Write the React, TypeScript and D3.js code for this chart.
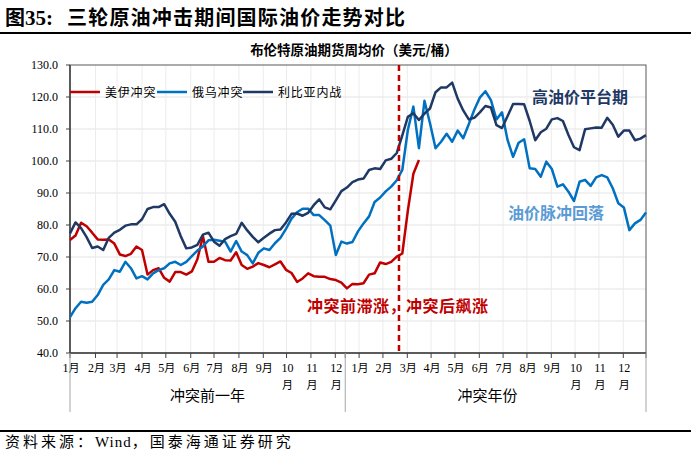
import React from "react";
import * as d3 from "d3";

// weekly Brent averages, aligned on week index from Jan of the year before the conflict
const usIranValues = [
  75.3, 76.7, 80.7, 79.6, 77.6, 75.5, 75.4, 75.5, 74.2, 70.8,
  70.3, 71.0, 73.3, 72.2, 64.5, 65.9, 66.5, 63.5, 62.3, 65.3,
  65.3, 64.5, 65.5, 69.3, 76.5, 68.5, 68.5, 69.7, 69.0, 68.9,
  71.5, 67.5, 66.3, 67.0, 68.1, 67.5, 66.8, 67.7, 68.6, 66.0,
  65.0, 62.2, 63.3, 64.9, 64.0, 63.8, 63.8, 63.1, 62.8, 62.0,
  60.2, 61.6, 61.5, 61.8, 64.5, 64.9, 68.3, 67.8, 68.5, 70.1,
  71.1, 84.5, 96.0, 100.3,
];

const russiaUkraineValues = [
  51.2, 54.0, 56.0, 55.7, 56.0, 58.1, 61.3, 63.0, 65.9, 65.4,
  68.5, 66.5, 63.3, 64.0, 63.0, 64.9, 65.9, 66.5, 68.0, 68.5,
  67.5, 68.5, 70.3, 72.0, 73.3, 75.2, 75.4, 75.1, 74.8, 71.7,
  75.0, 71.7, 70.6, 68.0, 71.3, 72.7, 72.2, 74.3, 76.0, 78.8,
  82.0, 84.0, 85.1, 85.1, 83.1, 83.1, 81.5, 79.8, 70.6, 74.8,
  74.2, 74.7, 78.0, 80.5, 82.7, 87.2, 88.6, 90.5, 92.0, 94.0,
  97.2, 109.7, 117.0, 104.0, 118.8, 111.8, 104.0, 106.0, 108.5, 106.0,
  109.5, 107.1, 111.5, 116.0, 119.8, 121.8, 119.0, 113.0, 115.2, 106.6,
  101.3, 105.7, 106.8, 97.7, 97.5, 95.1, 99.8, 97.5, 92.0, 92.7,
  90.4, 87.5, 93.5, 94.1, 92.2, 94.9, 95.6, 94.9, 91.5, 86.8,
  85.5, 78.4, 80.5, 81.6, 83.9,
];

const libyaValues = [
  77.4, 80.8, 79.0, 76.2, 72.8, 73.3, 72.2, 76.0, 77.6, 78.5,
  79.8, 80.2, 80.2, 81.8, 85.0, 85.6, 85.6, 86.5, 83.5, 81.0,
  76.5, 72.7, 73.0, 73.8, 77.0, 77.6, 74.8, 73.5, 75.6, 76.5,
  77.2, 80.7, 78.3, 76.3, 74.6, 76.0, 77.3, 78.4, 78.6, 80.8,
  83.5, 83.6, 82.9, 83.8, 86.2, 88.0, 85.5, 84.9, 87.7, 90.6,
  91.7, 93.4, 94.2, 94.5, 97.2, 97.7, 97.5, 100.2, 100.7, 102.5,
  108.0, 113.8, 114.9, 112.8, 114.8, 116.4, 121.5, 123.0, 123.0, 124.5,
  119.5, 115.8, 113.0, 113.5, 115.2, 117.2, 116.7, 111.2, 110.3, 114.0,
  117.8, 117.8, 117.7, 112.5, 106.5, 109.0, 110.1, 113.0, 113.4, 112.5,
  108.1, 104.3, 103.4, 109.9, 110.2, 110.5, 110.4, 113.5, 111.3, 107.6,
  109.5, 109.5, 106.5, 107.0, 108.1,
];

const seriesNames = ["美伊冲突", "俄乌冲突", "利比亚内战"];
const monthLabels = ["1月", "2月", "3月", "4月", "5月", "6月", "7月", "8月", "9月", "10月", "11月", "12月"];
const priorYearMonthWeeks = [0, 4.6, 8.5, 13, 17.3, 21.8, 26, 30.5, 34.9, 39.1, 43.5, 47.9];
const conflictYearMonthWeeks = [52.2, 56.5, 60.9, 65.2, 69.5, 73.9, 78.2, 82.5, 86.9, 91.2, 95.5, 99.9];
const yearBreakWeek = 49.7;
const lastWeek = 104;
const conflictStartWeek = 59.4;
const groupLabels = ["冲突前一年", "冲突年份"];
const yTicks = [40, 50, 60, 70, 80, 90, 100, 110, 120, 130];

const W = 691;
const H = 455;
const left = 70;
const right = 646;
const top = 65;
const bottom = 353;

const RED = "#c00000";
const BLUE = "#0070c0";
const NAVY = "#1f3864";

const cjk = "'Noto Sans CJK SC', 'Noto Sans', sans-serif";
const serif = "'Liberation Serif', 'DejaVu Serif', serif";

export default function App() {
  const x = d3.scaleLinear().domain([0, lastWeek]).range([left, right]);
  const y = d3.scaleLinear().domain([40, 130]).range([bottom, top]);

  const line = d3
    .line<number>()
    .x((d, i) => x(i))
    .y((d) => y(d));

  const series = [
    { name: seriesNames[0], values: usIranValues, color: RED },
    { name: seriesNames[1], values: russiaUkraineValues, color: BLUE },
    { name: seriesNames[2], values: libyaValues, color: NAVY },
  ];

  const allMonthWeeks = [...priorYearMonthWeeks, ...conflictYearMonthWeeks];
  const legendX = [70, 157, 243];

  return (
    <svg
      width={W}
      height={H}
      style={{ position: "absolute", left: 0, top: 0, background: "#fff" }}
    >
      {/* header */}
      <text x={5} y={25} fontFamily={cjk} fontWeight="bold" fontSize={20} fill="#000">
        图<tspan fontFamily={serif} fontSize={21}>35:</tspan>
        <tspan dx={14} letterSpacing={1.2}>三轮原油冲击期间国际油价走势对比</tspan>
      </text>
      <line x1={0} x2={W} y1={33} y2={33} stroke="#000" strokeWidth={2} />

      <text x={354} y={55} textAnchor="middle" fontFamily={cjk} fontWeight="bold" fontSize={13.5} fill="#000">
        布伦特原油期货周均价（美元/桶）
      </text>

      {/* grid */}
      {yTicks.slice(1, -1).map((t) => (
        <line key={"gy" + t} x1={left} x2={right} y1={y(t)} y2={y(t)} stroke="#e3e3e3" strokeWidth={1} />
      ))}
      {[...allMonthWeeks.slice(1), yearBreakWeek].map((w, i) => (
        <line key={"gx" + i} x1={x(w)} x2={x(w)} y1={top} y2={bottom} stroke="#ececec" strokeWidth={1} />
      ))}

      {/* frame */}
      <rect x={left} y={top} width={right - left} height={bottom - top} fill="none" stroke="#595959" strokeWidth={1} />
      <line x1={left} x2={left} y1={top} y2={bottom} stroke="#404040" strokeWidth={1.5} />
      <line x1={left} x2={right} y1={bottom} y2={bottom} stroke="#404040" strokeWidth={1.5} />

      {/* y axis */}
      {yTicks.map((t) => (
        <g key={"yt" + t}>
          <line x1={left - 4} x2={left} y1={y(t)} y2={y(t)} stroke="#404040" />
          <text x={58} y={y(t) + 4} textAnchor="end" fontFamily={serif} fontSize={12} fill="#000">
            {t.toFixed(1)}
          </text>
        </g>
      ))}

      {/* x axis ticks and labels */}
      {[...allMonthWeeks, yearBreakWeek, lastWeek].map((w, i) => (
        <line key={"xt" + i} x1={x(w)} x2={x(w)} y1={bottom} y2={bottom + 5} stroke="#404040" />
      ))}
      {allMonthWeeks.map((w, i) => {
        const label = monthLabels[i % 12];
        const cx = x(w) + 1;
        if (label.length > 2) {
          return (
            <text key={"xl" + i} textAnchor="middle" fontFamily={serif} fontSize={12} fill="#000">
              <tspan x={cx} y={372}>{label.slice(0, 2)}</tspan>
              <tspan x={cx} y={389} fontFamily={cjk} fontSize={11}>{label.slice(2)}</tspan>
            </text>
          );
        }
        return (
          <text key={"xl" + i} x={cx} y={372} textAnchor="middle" fontFamily={serif} fontSize={12} fill="#000">
            {label[0]}
            <tspan fontFamily={cjk} fontSize={11}>{label.slice(1)}</tspan>
          </text>
        );
      })}
      {[0, yearBreakWeek, lastWeek].map((w, i) => (
        <line key={"gl" + i} x1={x(w)} x2={x(w)} y1={bottom} y2={412} stroke="#a6a6a6" strokeWidth={1} />
      ))}
      <text x={(x(0) + x(yearBreakWeek)) / 2} y={401} textAnchor="middle" fontFamily={cjk} fontSize={15} fill="#000">
        {groupLabels[0]}
      </text>
      <text x={(x(yearBreakWeek) + x(lastWeek)) / 2 - 8} y={401} textAnchor="middle" fontFamily={cjk} fontSize={15} fill="#000">
        {groupLabels[1]}
      </text>

      {/* series */}
      {series.map((s) => (
        <path
          key={s.name}
          d={line(s.values) || ""}
          fill="none"
          stroke={s.color}
          strokeWidth={2.5}
          strokeLinejoin="round"
        />
      ))}

      {/* conflict start */}
      <line
        x1={x(conflictStartWeek)}
        x2={x(conflictStartWeek)}
        y1={top}
        y2={bottom}
        stroke={RED}
        strokeWidth={2.5}
        strokeDasharray="6,4"
      />

      {/* legend */}
      {series.map((s, i) => (
        <g key={"lg" + s.name}>
          <line x1={legendX[i]} x2={legendX[i] + 30} y1={92} y2={92} stroke={s.color} strokeWidth={2.5} />
          <text x={legendX[i] + 35} y={96.5} fontFamily={cjk} fontSize={12} letterSpacing={0.8} fill="#000">
            {s.name}
          </text>
        </g>
      ))}

      {/* annotations */}
      <text x={532} y={103} fontFamily={cjk} fontWeight="bold" fontSize={16} fill={NAVY}>
        高油价平台期
      </text>
      <text x={508} y={219} fontFamily={cjk} fontWeight="bold" fontSize={16} fill="#5b9bd5">
        油价脉冲回落
      </text>
      <text x={307} y={312} fontFamily={cjk} fontWeight="bold" fontSize={16} letterSpacing={0.5} fill={RED}>
        冲突前滞涨，冲突后飙涨
      </text>

      {/* footer */}
      <line x1={0} x2={W} y1={431} y2={431} stroke="#000" strokeWidth={2} />
      <text x={5} y={447} fontFamily={cjk} fontSize={15} letterSpacing={3} fill="#000">
        资料来源：<tspan fontFamily={serif} letterSpacing={1}>Wind</tspan>，国泰海通证券研究
      </text>
    </svg>
  );
}
